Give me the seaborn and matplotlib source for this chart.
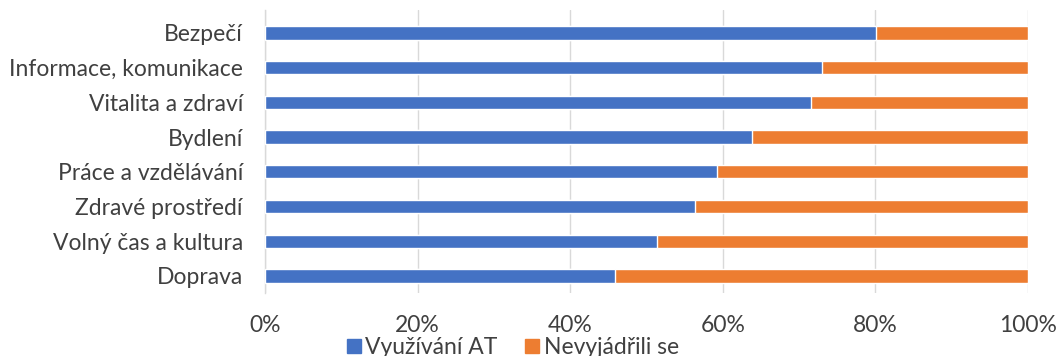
import matplotlib
matplotlib.use("Agg")
import matplotlib.pyplot as plt
import seaborn as sns
import pandas as pd
from matplotlib.patches import Patch
from matplotlib.ticker import PercentFormatter

categories = ["Bezpečí", "Informace, komunikace", "Vitalita a zdraví", "Bydlení",
              "Práce a vzdělávání", "Zdravé prostředí", "Volný čas a kultura", "Doprava"]
vyuzivani_at = [80.1, 73.0, 71.5, 63.8, 59.2, 56.3, 51.4, 45.9]
nevyjadrili = [100 - v for v in vyuzivani_at]
series_names = ["Využívání AT", "Nevyjádřili se"]
x_ticks = [0, 20, 40, 60, 80, 100]

BLUE = "#4472C4"
ORANGE = "#ED7D31"
TEXT = "#404040"

sns.set_theme(style="white")
plt.rcParams["font.family"] = ["Lato", "DejaVu Sans"]

df = pd.DataFrame({"cat": categories, "blue": vyuzivani_at, "orange": nevyjadrili})
df["total"] = df["blue"] + df["orange"]

W, H = 1061, 356
fig = plt.figure(figsize=(W / 100, H / 100), dpi=100)
ax = fig.add_axes([265 / W, 1 - 293 / H, (1028 - 265) / W, (293 - 10) / H])

sns.barplot(data=df, y="cat", x="total", color=ORANGE, orient="h", width=0.38,
            ax=ax, saturation=1, zorder=2)
sns.barplot(data=df, y="cat", x="blue", color=BLUE, orient="h", width=0.38,
            ax=ax, saturation=1, zorder=3)

ax.set_xlim(0, 100)
ax.set_ylim(7.49, -0.66)
ax.set_xticks(x_ticks)
ax.xaxis.set_major_formatter(PercentFormatter(decimals=0))
ax.set_xlabel("")
ax.set_ylabel("")
ax.grid(axis="x", color="#d9d9d9", linewidth=1, zorder=0)
ax.grid(axis="y", visible=False)
for s in ["top", "right", "bottom"]:
    ax.spines[s].set_visible(False)
ax.spines["left"].set_color("#d9d9d9")
ax.spines["left"].set_linewidth(1)
ax.tick_params(axis="y", length=0, pad=16, labelsize=16.5, labelcolor=TEXT)
ax.tick_params(axis="x", length=0, pad=16, labelsize=16.5, labelcolor=TEXT)

handles = [Patch(color=BLUE), Patch(color=ORANGE)]
fig.legend(handles, series_names, loc="center", bbox_to_anchor=(513 / W, 1 - 347.5 / H),
           ncol=2, frameon=False, fontsize=16.5, labelcolor=TEXT,
           handlelength=0.6, handleheight=0.6, handletextpad=0.2, columnspacing=1.2,
           borderpad=0, borderaxespad=0)

fig.savefig("out.png", dpi=100, facecolor="white")
